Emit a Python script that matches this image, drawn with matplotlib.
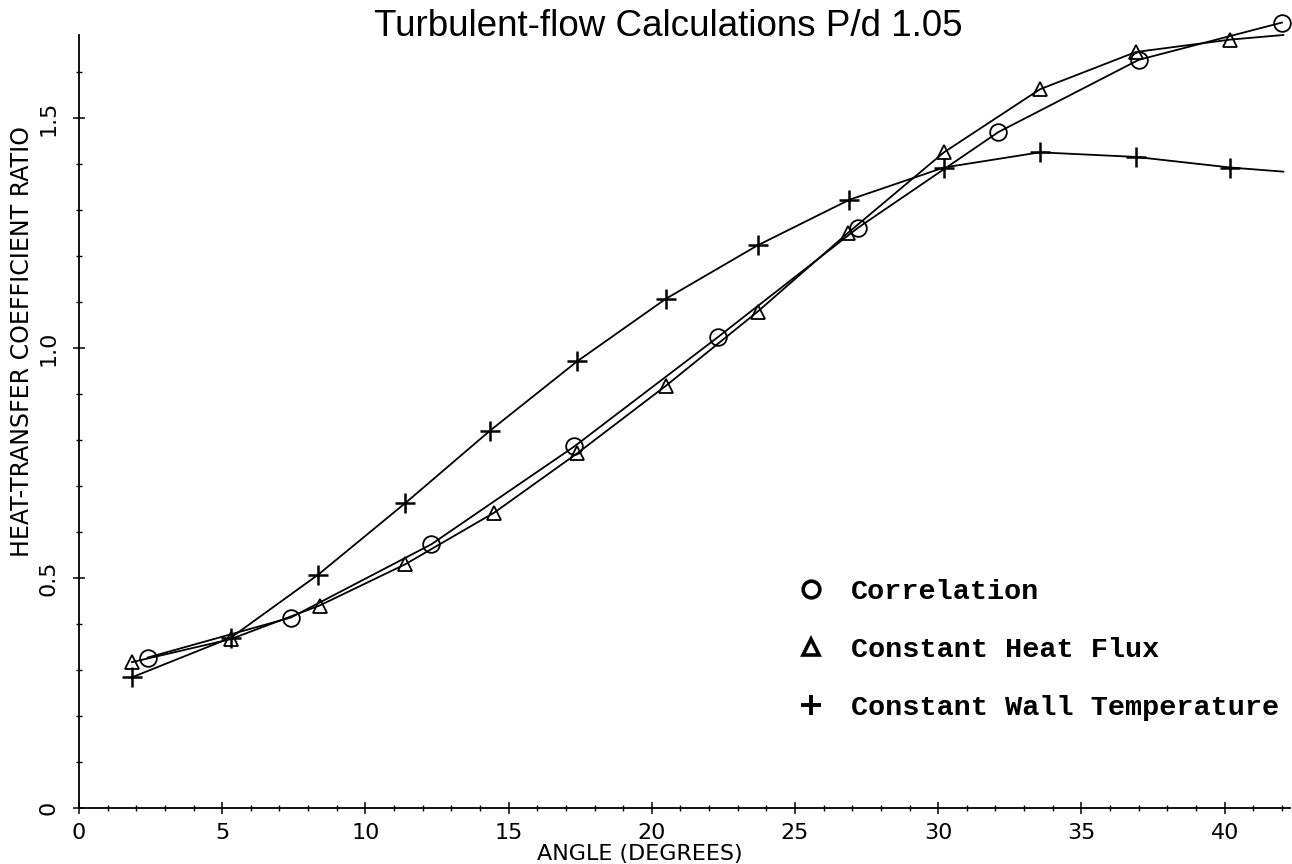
import matplotlib
matplotlib.use("Agg")
import matplotlib.pyplot as plt
from matplotlib.lines import Line2D
from matplotlib.ticker import MultipleLocator
from matplotlib import font_manager

# data
corr_x = [2.4, 7.4, 12.3, 17.3, 22.3, 27.2, 32.1, 37.0, 42.0]
corr_y = [0.327, 0.414, 0.573, 0.786, 1.023, 1.261, 1.469, 1.626, 1.707]

flux_x = [1.85, 5.3, 8.4, 11.4, 14.5, 17.4, 20.5, 23.7, 26.85, 30.2, 33.55, 36.9, 40.2]
flux_y = [0.317, 0.367, 0.440, 0.530, 0.642, 0.771, 0.918, 1.079, 1.250, 1.425, 1.562, 1.643, 1.670]
flux_end = (42.05, 1.680)

wall_x = [1.85, 5.3, 8.35, 11.4, 14.35, 17.4, 20.5, 23.7, 26.9, 30.2, 33.55, 36.9, 40.2]
wall_y = [0.284, 0.370, 0.507, 0.663, 0.820, 0.971, 1.107, 1.223, 1.322, 1.392, 1.425, 1.415, 1.392]
wall_end = (42.05, 1.383)

labels = ["Correlation", "Constant Heat Flux", "Constant Wall Temperature"]

names = {f.name for f in font_manager.fontManager.ttflist}
tick_font = "Liberation Sans Narrow" if "Liberation Sans Narrow" in names else "DejaVu Sans"

fig = plt.figure(figsize=(12.92, 8.64), dpi=100)
ax = fig.add_axes([0.0611, 0.0648, 0.9373, 0.8947])

lw = 1.3
ax.plot(corr_x, corr_y, "-", color="black", lw=lw, marker="o", ms=12,
        mfc="none", mec="black", mew=1.3, clip_on=False)
ax.plot(flux_x + [flux_end[0]], flux_y + [flux_end[1]], "-", color="black", lw=lw,
        clip_on=False)
ax.plot(flux_x, flux_y, "none", marker="^", ms=10, mfc="none", mec="black",
        mew=1.3, clip_on=False)
ax.plot(wall_x + [wall_end[0]], wall_y + [wall_end[1]], "-", color="black", lw=lw,
        clip_on=False)
ax.plot(wall_x, wall_y, "none", marker="+", ms=14, mec="black", mew=1.8,
        clip_on=False)

ax.set_xlim(0, 42.28)
ax.set_ylim(0, 1.68)
for s in ("top", "right"):
    ax.spines[s].set_visible(False)
ax.spines["left"].set_linewidth(1.3)
ax.spines["bottom"].set_linewidth(1.3)

ax.xaxis.set_major_locator(MultipleLocator(5))
ax.xaxis.set_minor_locator(MultipleLocator(1))
ax.yaxis.set_major_locator(MultipleLocator(0.5))
ax.yaxis.set_minor_locator(MultipleLocator(0.1))
ax.tick_params(which="major", direction="inout", length=9, width=1.1)
ax.tick_params(which="minor", direction="inout", length=5, width=1.0)
ax.tick_params(axis="x", which="major", pad=6, labelsize=16)
ax.tick_params(axis="y", which="major", pad=10, labelsize=16)

ax.set_xticks([0, 5, 10, 15, 20, 25, 30, 35, 40])
ax.set_xticklabels(["0", "5", "10", "15", "20", "25", "30", "35", "40"],
                   family=tick_font)
ax.set_yticks([0, 0.5, 1.0, 1.5])
ax.set_yticklabels(["0", "0.5", "1.0", "1.5"], family=tick_font, rotation=90,
                   va="center")

fig.text(0.495, 0.0, "ANGLE (DEGREES)", family=tick_font, fontsize=16,
         ha="center", va="bottom")
fig.text(0.017, 0.605, "HEAT-TRANSFER COEFFICIENT RATIO", family=tick_font,
         fontsize=17, rotation=90, ha="center", va="center")
fig.text(0.517, 0.958, "Turbulent-flow Calculations P/d 1.05",
         family="Liberation Sans", fontsize=26.5, ha="center", va="baseline")

handles = [
    Line2D([], [], ls="none", marker="o", ms=12, mfc="none", mec="black", mew=2.6),
    Line2D([], [], ls="none", marker="^", ms=11, mfc="none", mec="black", mew=2.6),
    Line2D([], [], ls="none", marker="+", ms=15, mec="black", mew=2.8),
]
ax.legend(handles, labels, loc="upper left", bbox_to_anchor=(0.572, 0.33),
          frameon=False, handlelength=1.0, handletextpad=0.9, labelspacing=1.13,
          prop={"family": "Liberation Mono", "weight": "bold", "size": 20.5})

fig.savefig("out.png", dpi=100)
